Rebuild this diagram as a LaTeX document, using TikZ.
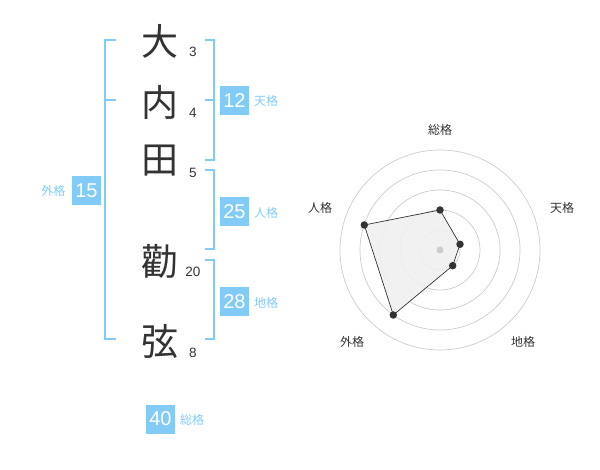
\documentclass[tikz,border=0pt]{standalone}
\usepackage{fontspec}
\setmainfont{Liberation Sans}
\newfontfamily\cjk{Noto Sans CJK JP}
\definecolor{sky}{HTML}{82CBF6}
\definecolor{ink}{HTML}{333333}
\definecolor{ring}{HTML}{CCCCCC}
\begin{document}
\begin{tikzpicture}[x=1pt,y=-1pt,
  kanji/.style={font=\cjk\fontsize{37}{37}\selectfont, text=ink, inner sep=0pt},
  strokes/.style={font=\fontsize{13.5}{13.5}\selectfont, text=ink, inner sep=0pt},
  numbox/.style={fill=sky, text=white, minimum width=29pt, minimum height=29pt, inner sep=0pt, font=\fontsize{20}{20}\selectfont},
  kaku/.style={font=\cjk\fontsize{12}{12}\selectfont, text=sky, inner sep=0pt},
  brk/.style={draw=sky, line width=2pt},
  axislab/.style={font=\cjk\fontsize{12}{12}\selectfont, text=ink, inner sep=0pt},
  ringst/.style={draw=ring, line width=0.7pt},
  dot/.style={circle, fill=ink, inner sep=0pt, minimum size=7.5pt}]
\useasboundingbox (0,0) rectangle (600,470);
% kanji
\node[kanji] (k1) at (160,41) {大};
\node[kanji] (k2) at (160,102) {内};
\node[kanji] (k3) at (160,161) {田};
\node[kanji] (k4) at (160,261) {勸};
\node[kanji] (k5) at (160,341) {弦};
\node[strokes] (s1) at (193,52) {3};
\node[strokes] (s2) at (193,113) {4};
\node[strokes] (s3) at (193,173) {5};
\node[strokes] (s4) at (193,272) {20};
\node[strokes] (s5) at (193,353) {8};
% brackets
\coordinate (la) at (116,40); \coordinate (lb) at (116,100); \coordinate (lc) at (116,339);
\draw[brk] (la) -- (105,40) -- (105,339) -- (lc);
\draw[brk] (105,100) -- (lb);
\draw[brk] (205,40) -- (214,40) -- (214,160) -- (205,160);
\draw[brk] (205,100) -- (214,100);
\draw[brk] (205,170) -- (214,170) -- (214,249) -- (205,249);
\draw[brk] (205,260) -- (214,260) -- (214,339) -- (205,339);
% boxes
\node[numbox] (b12) at (234.5,100.5) {12};
\node[kaku] (l12) at (266,101) {天格};
\node[numbox] (b25) at (234.5,212) {25};
\node[kaku] (l25) at (266,213) {人格};
\node[numbox] (b28) at (234.5,302) {28};
\node[kaku] (l28) at (266,303) {地格};
\node[numbox] (b15) at (86.5,190.5) {15};
\node[kaku] (l15) at (53.5,191) {外格};
\node[numbox] (b40) at (160.5,419) {40};
\node[kaku] (l40) at (192,420) {総格};
% radar
\coordinate (c) at (440,250);
\foreach \r in {20,40,60,80,100} \draw[ringst] (c) circle[radius=\r];
\coordinate (p1) at (440,210);
\coordinate (p2) at (460,244.3);
\coordinate (p3) at (452.7,265.7);
\coordinate (p4) at (393.3,315);
\coordinate (p5) at (364.3,225);
\filldraw[fill=black!6, draw=ink, line width=0.7pt, fill opacity=0.9] (p1) -- (p2) -- (p3) -- (p4) -- (p5) -- cycle;
\foreach \p in {p1,p2,p3,p4,p5} \node[dot] at (\p) {};
\fill[ring] (c) circle[radius=3.5];
\node[axislab] (a1) at (440,130) {総格};
\node[axislab] (a2) at (562,208) {天格};
\node[axislab] (a3) at (523,342) {地格};
\node[axislab] (a4) at (352,342) {外格};
\node[axislab] (a5) at (320,208) {人格};
\end{tikzpicture}
\end{document}
